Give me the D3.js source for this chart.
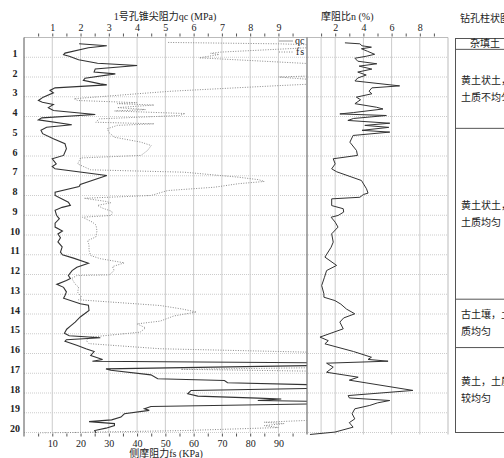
<!DOCTYPE html>
<html>
<head>
<meta charset="utf-8">
<script src="https://cdn.jsdelivr.net/npm/d3@7"></script>
<style>
  body { margin: 0; background: #fff; }
  svg text { font-family: "Liberation Serif", "DejaVu Serif", "Noto Sans CJK SC", serif; fill: #222; }
</style>
</head>
<body>
<div class="chart"></div>
<script>
// depth (m) + value pairs
const qcData = [[0.32,1.95],[0.42,2.93],[0.52,2.28],[0.79,1.45],[0.87,1.4],[0.95,1.6],[1.13,1.93],[1.3,2.6],[1.42,4.0],
  [1.59,2.52],[1.75,2.48],[1.84,3.23],[2.06,2.16],[2.17,2.1],[2.35,2.7],[2.4,2.93],[2.55,1.1],[2.68,0.92],[2.8,1.04],
  [3.02,0.68],[3.19,0.51],[3.28,0.65],[3.39,1.04],[3.55,0.86],[3.7,1.04],[3.9,2.52],[4.07,0.63],[4.17,0.51],[4.42,1.69],
  [4.54,0.8],[4.7,0.6],[4.87,0.66],[5.13,1.04],[5.38,1.45],[5.63,1.5],[5.97,1.4],[6.14,1.0],[6.4,1.14],[6.53,1.0],[6.65,1.1],
  [6.99,2.93],[7.44,1.99],[7.55,1.95],[7.83,1.1],[8.0,1.1],[8.34,1.57],[8.5,1.64],[8.6,1.35],[8.75,1.1],[9.0,1.15],[9.18,1.25],
  [9.4,1.1],[9.6,1.1],[9.8,1.36],[9.95,1.2],[10.14,1.29],[10.35,1.2],[10.6,1.35],[10.87,1.29],[11.0,1.36],[11.17,1.75],
  [11.43,2.28],[11.63,1.87],[11.8,1.7],[12.05,1.57],[12.2,1.64],[12.3,1.5],[12.5,1.16],[12.65,1.4],[12.88,1.5],[13.06,1.45],
  [13.2,1.4],[13.48,1.99],[13.56,2.28],[13.82,2.3],[14.15,1.99],[14.41,1.81],[14.6,1.65],[14.77,1.51],[14.97,1.43],[15.1,1.6],
  [15.2,2.7],[15.3,1.5],[15.38,1.45],[15.6,1.89],[15.76,2.19],[15.9,2.48],[16.1,2.36],[16.3,2.78],[16.39,2.42],[16.47,10.5],
  [16.6,10.5],[16.78,2.9],[16.85,3.07],[17.08,4.49],[17.28,4.73],[17.37,7.09],[17.48,7.2],[17.59,10.5],[17.76,10.5],
  [17.87,5.91],[18.04,5.79],[18.16,6.15],[18.26,8.27],[18.3,9.1],[18.38,8.27],[18.43,10.5],[18.55,10.5],[18.68,4.49],
  [18.8,4.26],[18.88,4.43],[19.05,3.55],[19.22,3.43],[19.36,3.1],[19.45,2.3],[19.55,3.2],[19.65,3.2],[19.78,2.9],
  [19.9,2.5],[20.03,2.55]];

const fsData = [[0.25,51],[0.32,90],[0.38,104],[0.5,103],[0.74,69.5],[0.8,66],[0.86,69],[1.03,62],[1.33,102],[1.7,110],
  [1.95,101],[2.0,90],[2.07,96],[2.15,104],[2.35,103],[2.43,91],[2.6,68],[2.72,52],[2.85,40],[3.1,17.7],[3.19,19],[3.3,40],
  [3.35,33],[3.42,46],[3.55,33],[3.65,43],[3.72,32],[3.85,57],[3.95,55],[4.12,26.6],[4.29,25.4],[4.37,46],[4.45,33],
  [4.62,29.5],[4.8,30],[5.05,32],[5.3,41.4],[5.47,45],[5.72,43.7],[5.97,41.4],[6.1,20],[6.4,19],[6.7,23.6],[6.82,56.7],
  [7.07,75.7],[7.2,83],[7.29,85],[7.4,76],[7.58,67.4],[7.75,50.8],[8.0,44.9],[8.14,21.3],[8.3,29],[8.37,30.7],[8.5,26],
  [8.64,27.8],[8.8,31],[8.9,31.3],[9.01,30.7],[9.1,20.7],[9.35,24.2],[9.5,25.5],[9.8,25.8],[10.1,25.4],[10.28,22.5],
  [10.5,23],[10.78,23],[11.04,23.6],[11.2,27],[11.41,35.5],[11.6,31.3],[11.8,31.9],[12.02,30.1],[12.05,18.7],[12.2,16.9],
  [12.47,18],[12.64,19.3],[12.9,19],[13.15,20.4],[13.28,19.3],[13.57,48.2],[13.75,56],[13.9,61],[14.1,53],[14.36,48.2],
  [14.5,40],[14.7,43],[14.92,41.1],[15.17,23.4],[15.34,22],[15.5,23],[15.6,32.6],[15.76,48.2],[15.93,100],[16.1,110],
  [16.6,110],[16.72,103],[16.8,55.5],[16.9,105],[17.2,120],[18.5,120],[19.3,110],[19.39,100],[19.48,84.9],[19.55,92],
  [19.65,85],[19.75,90],[19.9,57.1],[20.03,5.7]];

const nData = [[0.27,2.69],[0.32,3.75],[0.42,3.9],[0.49,4.57],[0.57,3.86],[0.7,4.3],[0.85,4.8],[0.95,4.2],[1.05,3.4],
  [1.2,3.6],[1.33,4.95],[1.45,3.7],[1.6,4.6],[1.75,3.6],[1.9,4.2],[2.05,3.6],[2.2,3.4],[2.45,6.57],[2.55,4.6],[2.72,4.4],
  [2.85,4.6],[3.02,3.5],[3.15,3.8],[3.35,3.4],[3.53,4.92],[3.62,5.39],[3.8,3.3],[3.87,2.33],[3.95,5.63],[4.1,3.3],[4.2,2.9],
  [4.34,5.87],[4.45,4.1],[4.55,5.8],[4.7,3.9],[4.79,5.87],[4.96,3.27],[5.3,3.04],[5.72,3.51],[5.97,3.58],[6.14,1.86],
  [6.4,2.0],[6.65,1.75],[6.8,2.11],[7.24,3.86],[7.66,4.22],[7.88,4.33],[7.95,4.0],[8.09,3.75],[8.17,1.75],[8.51,1.75],
  [8.67,2.57],[8.84,2.6],[9.01,2.21],[9.1,1.71],[9.35,2.0],[9.6,2.2],[9.94,1.75],[10.36,1.86],[10.62,1.71],[11.12,1.27],
  [11.54,2.1],[11.8,1.39],[12.14,1.24],[12.56,1.04],[12.98,1.2],[13.15,1.2],[13.32,1.98],[13.5,2.4],[13.75,2.8],
  [13.99,3.39],[14.2,2.6],[14.41,2.33],[14.75,2.57],[15.17,0.92],[15.35,1.51],[15.51,1.27],[15.9,3.3],[16.19,4.57],
  [16.3,4.33],[16.39,5.75],[16.49,1.39],[16.69,1.86],[16.95,1.39],[17.2,3.63],[17.35,3.0],[17.87,7.51],[18.13,2.92],
  [18.25,3.0],[18.38,5.87],[18.5,5.0],[18.63,4.45],[18.8,3.39],[19.05,3.2],[19.31,3.39],[19.5,3.0],[19.73,3.27],
  [19.98,1.98],[20.1,0.21]];

const depthTicks = d3.range(1, 21);
const qcTicks = [1, 2, 3, 4, 5, 6, 7, 8, 9];
const fsTicks = [10, 20, 30, 40, 50, 60, 70, 80, 90];
const nTicks = [2, 4, 6, 8];
const nGrid = [1, 2, 4, 6, 8];

// soil column: [top, bottom, lines of text]
const layerTops = [0, 0.6, 4.6, 13.25, 15.7];
const layerBottoms = [0.6, 4.6, 13.25, 15.7, 20];
const layerText = [["杂填土"], ["黄土状土，土", "土质不均匀"], ["黄土状土，", "土质均匀"], ["古土壤，土", "质均匀"], ["黄土，土质", "较均匀"]];

const width = 504, height = 458;
const svg = d3.select(".chart").append("svg").attr("width", width).attr("height", height);

const y = d3.scaleLinear().domain([0, 20]).range([37.5, 432.5]);
const xq = d3.scaleLinear().domain([0, 10]).range([24, 306.7]);
const xf = d3.scaleLinear().domain([0, 100]).range([24, 306.7]);
const xn = d3.scaleLinear().domain([0, 10]).range([307, 448]);

const defs = svg.append("defs");
defs.append("clipPath").attr("id", "clipL").append("rect")
  .attr("x", xq(0)).attr("y", y(0)).attr("width", xq(10) - xq(0)).attr("height", y(20) - y(0) + 1);
defs.append("clipPath").attr("id", "clipR").append("rect")
  .attr("x", xn(0)).attr("y", y(0)).attr("width", xn(10) - xn(0)).attr("height", y(20) - y(0) + 3);

// grids
svg.append("g").selectAll("line").data(qcTicks).enter().append("line")
  .attr("x1", d => xq(d)).attr("x2", d => xq(d)).attr("y1", y(0)).attr("y2", y(20))
  .attr("stroke", "#ccc");
svg.append("g").selectAll("line").data(nGrid).enter().append("line")
  .attr("x1", d => xn(d)).attr("x2", d => xn(d)).attr("y1", y(0)).attr("y2", y(20) + 2)
  .attr("stroke", "#ccc");
svg.append("g").selectAll("line").data(depthTicks).enter().append("line")
  .attr("x1", xq(0)).attr("x2", xn(10)).attr("y1", d => y(d)).attr("y2", d => y(d))
  .attr("stroke", "#ccc").attr("stroke-dasharray", "1,1");
svg.append("line").attr("x1", xq(0)).attr("x2", xn(10)).attr("y1", y(0)).attr("y2", y(0)).attr("stroke", "#bbb");
svg.append("line").attr("x1", xn(10)).attr("x2", xn(10)).attr("y1", y(0)).attr("y2", y(20) + 2).attr("stroke", "#bbb");

// axes
const topAxis = svg.append("g").attr("transform", `translate(0,${y(0) - 1})`)
  .call(d3.axisTop(xq).tickValues(d3.range(0.5, 10, 0.5)).tickSize(3).tickPadding(3)
    .tickFormat(d => qcTicks.includes(d) ? d : ""));
const botAxis = svg.append("g").attr("transform", `translate(0,${y(20) + 1})`)
  .call(d3.axisBottom(xf).tickValues(d3.range(5, 100, 5)).tickSize(3).tickPadding(3)
    .tickFormat(d => fsTicks.includes(d) ? d : ""));
const nAxis = svg.append("g").attr("transform", `translate(0,${y(0) - 1})`)
  .call(d3.axisTop(xn).tickValues(d3.range(1, 10)).tickSize(3).tickPadding(3)
    .tickFormat(d => nTicks.includes(d) ? d : ""));
const leftAxis = svg.append("g").attr("transform", `translate(${xq(0)},0)`)
  .call(d3.axisLeft(y).tickValues(depthTicks).tickSize(0).tickPadding(9));
leftAxis.selectAll("text").attr("text-anchor", "middle").attr("dy", "-0.1em").attr("font-weight", "bold");

[topAxis, botAxis, nAxis, leftAxis].forEach(a => {
  a.select(".domain").remove();
  a.selectAll("text").attr("font-size", 10).attr("font-family", null);
  a.selectAll(".tick line").attr("stroke", "#555");
});

svg.append("line").attr("x1", xq(0)).attr("x2", xq(0)).attr("y1", y(0)).attr("y2", y(20) + 4).attr("stroke", "#555");
svg.append("line").attr("x1", xn(0)).attr("x2", xn(0)).attr("y1", y(0)).attr("y2", y(20) + 2).attr("stroke", "#555");

// curves
const lineQ = d3.line().x(d => xq(d[1])).y(d => y(d[0]));
const lineF = d3.line().x(d => xf(d[1])).y(d => y(d[0]));
const lineN = d3.line().x(d => xn(d[1])).y(d => y(d[0]));

svg.append("path").datum(fsData).attr("d", lineF).attr("clip-path", "url(#clipL)")
  .attr("fill", "none").attr("stroke", "#888").attr("stroke-width", 1).attr("stroke-dasharray", "1,1.5");
svg.append("path").datum(qcData).attr("d", lineQ).attr("clip-path", "url(#clipL)")
  .attr("fill", "none").attr("stroke", "#333").attr("stroke-width", 1.1);
svg.append("path").datum(nData).attr("d", lineN).attr("clip-path", "url(#clipR)")
  .attr("fill", "none").attr("stroke", "#333").attr("stroke-width", 1);

// legend
const leg = svg.append("g");
leg.append("line").attr("x1", 279).attr("x2", 293).attr("y1", 41).attr("y2", 41).attr("stroke", "#999");
leg.append("line").attr("x1", 279).attr("x2", 293).attr("y1", 52).attr("y2", 52).attr("stroke", "#888").attr("stroke-dasharray", "1,1.5");
leg.append("text").attr("x", 295).attr("y", 44).attr("font-size", 10).text("qc");
leg.append("text").attr("x", 296).attr("y", 55).attr("font-size", 10).attr("letter-spacing", 1).text("fs");

// titles
svg.append("text").attr("x", 165).attr("y", 20).attr("text-anchor", "middle").attr("font-size", 10).text("1号孔锥尖阻力qc (MPa)");
svg.append("text").attr("x", 166).attr("y", 457).attr("text-anchor", "middle").attr("font-size", 10).text("侧摩阻力fs (KPa)");
svg.append("text").attr("x", 321).attr("y", 20).attr("font-size", 10).text("摩阻比n (%)");
svg.append("text").attr("x", 460).attr("y", 22).attr("font-size", 10).text("钻孔柱状图");

// soil column
const col = svg.append("g");
col.append("rect").attr("x", 455.5).attr("y", y(0) + 1).attr("width", 80).attr("height", y(20) - y(0) - 1)
  .attr("fill", "none").attr("stroke", "#555");
col.selectAll("line").data(layerTops.slice(1)).enter().append("line")
  .attr("x1", 455.5).attr("x2", 540).attr("y1", d => y(d)).attr("y2", d => y(d)).attr("stroke", "#555");
layerText.forEach((lines, i) => {
  const mid = (y(layerTops[i]) + y(layerBottoms[i])) / 2;
  const n = lines.length;
  lines.forEach((t, j) => {
    col.append("text").attr("x", i === 0 ? 470 : 461)
      .attr("y", mid + (j - (n - 1) / 2) * 17 + 3.5)
      .attr("font-size", 10).text(t);
  });
});
</script>
</body>
</html>
